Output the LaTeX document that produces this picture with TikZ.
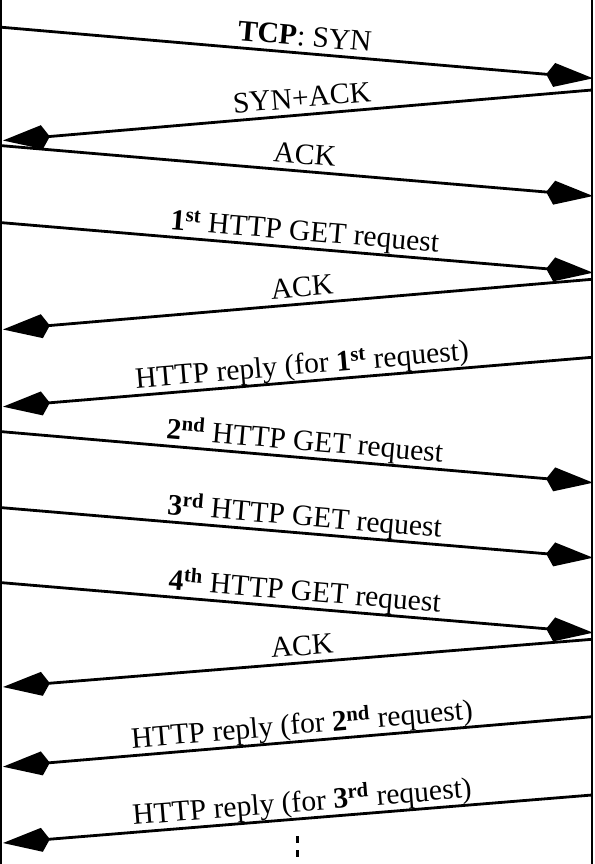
\documentclass[tikz,border=0pt]{standalone}
\usepackage{fontspec}
\setmainfont{Liberation Serif}
\usetikzlibrary{arrows.meta}

\tikzset{
  life/.style={line width=2pt},
  msg/.style={line width=2.8pt, -{Kite[length=47pt,width=24pt,inset=8pt]}},
  lbl/.style={pos=0.51, above, sloped, inner sep=0.5pt, text depth=5.5pt,
    font=\fontsize{29.6}{35}\selectfont},
  lblback/.style={lbl, pos=0.49},
}

\begin{document}
\begin{tikzpicture}[x=1pt,y=-1pt]
    \useasboundingbox (0,0) rectangle (594,864);

    % lifelines
    \coordinate (ltop) at (1,0);
    \coordinate (lbot) at (1,864);
    \coordinate (rtop) at (592,0);
    \coordinate (rbot) at (592,864);
    \draw[life] (ltop) -- (lbot);
    \draw[life] (rtop) -- (rbot);

    % end points on the client side
    \coordinate (c1) at (2,27.3);
    \coordinate (c2) at (3,140.5);
    \coordinate (c3) at (2,145.7);
    \coordinate (c4) at (2,222.7);
    \coordinate (c5) at (3,329.5);
    \coordinate (c6) at (3,406.7);
    \coordinate (c7) at (2,431.7);
    \coordinate (c8) at (2,507.7);
    \coordinate (c9) at (2,582.7);
    \coordinate (c10) at (3,687);
    \coordinate (c11) at (3,766.7);
    \coordinate (c12) at (3,843);

    % end points on the server side
    \coordinate (s1) at (593,78.3);
    \coordinate (s2) at (592,90);
    \coordinate (s3) at (593,196);
    \coordinate (s4) at (593,272.7);
    \coordinate (s5) at (592,279.3);
    \coordinate (s6) at (592,357.3);
    \coordinate (s7) at (593,482.7);
    \coordinate (s8) at (593,557.7);
    \coordinate (s9) at (593,632.7);
    \coordinate (s10) at (592,639.3);
    \coordinate (s11) at (592,716.7);
    \coordinate (s12) at (592,795);

    \draw[msg] (c1) -- (s1) node[lbl] {\textbf{TCP}: SYN};
    \draw[msg] (s2) -- (c2) node[lblback] {SYN+ACK};
    \draw[msg] (c3) -- (s3) node[lbl] {ACK};
    \draw[msg] (c4) -- (s4) node[lbl] {\textbf{1\textsuperscript{st}} HTTP GET request};
    \draw[msg] (s5) -- (c5) node[lblback] {ACK};
    \draw[msg] (s6) -- (c6) node[lblback] {HTTP reply (for \textbf{1\textsuperscript{st}} request)};
    \draw[msg] (c7) -- (s7) node[lbl] {\textbf{2\textsuperscript{nd}} HTTP GET request};
    \draw[msg] (c8) -- (s8) node[lbl] {\textbf{3\textsuperscript{rd}} HTTP GET request};
    \draw[msg] (c9) -- (s9) node[lbl] {\textbf{4\textsuperscript{th}} HTTP GET request};
    \draw[msg] (s10) -- (c10) node[lblback] {ACK};
    \draw[msg] (s11) -- (c11) node[lblback] {HTTP reply (for \textbf{2\textsuperscript{nd}} request)};
    \draw[msg] (s12) -- (c12) node[lblback] {HTTP reply (for \textbf{3\textsuperscript{rd}} request)};

    % more to come
    \coordinate (more) at (297,836);
    \coordinate (moreend) at (297,864);
    \draw[line width=3pt, dash pattern=on 7pt off 7pt] (more) -- (moreend);
\end{tikzpicture}
\end{document}
